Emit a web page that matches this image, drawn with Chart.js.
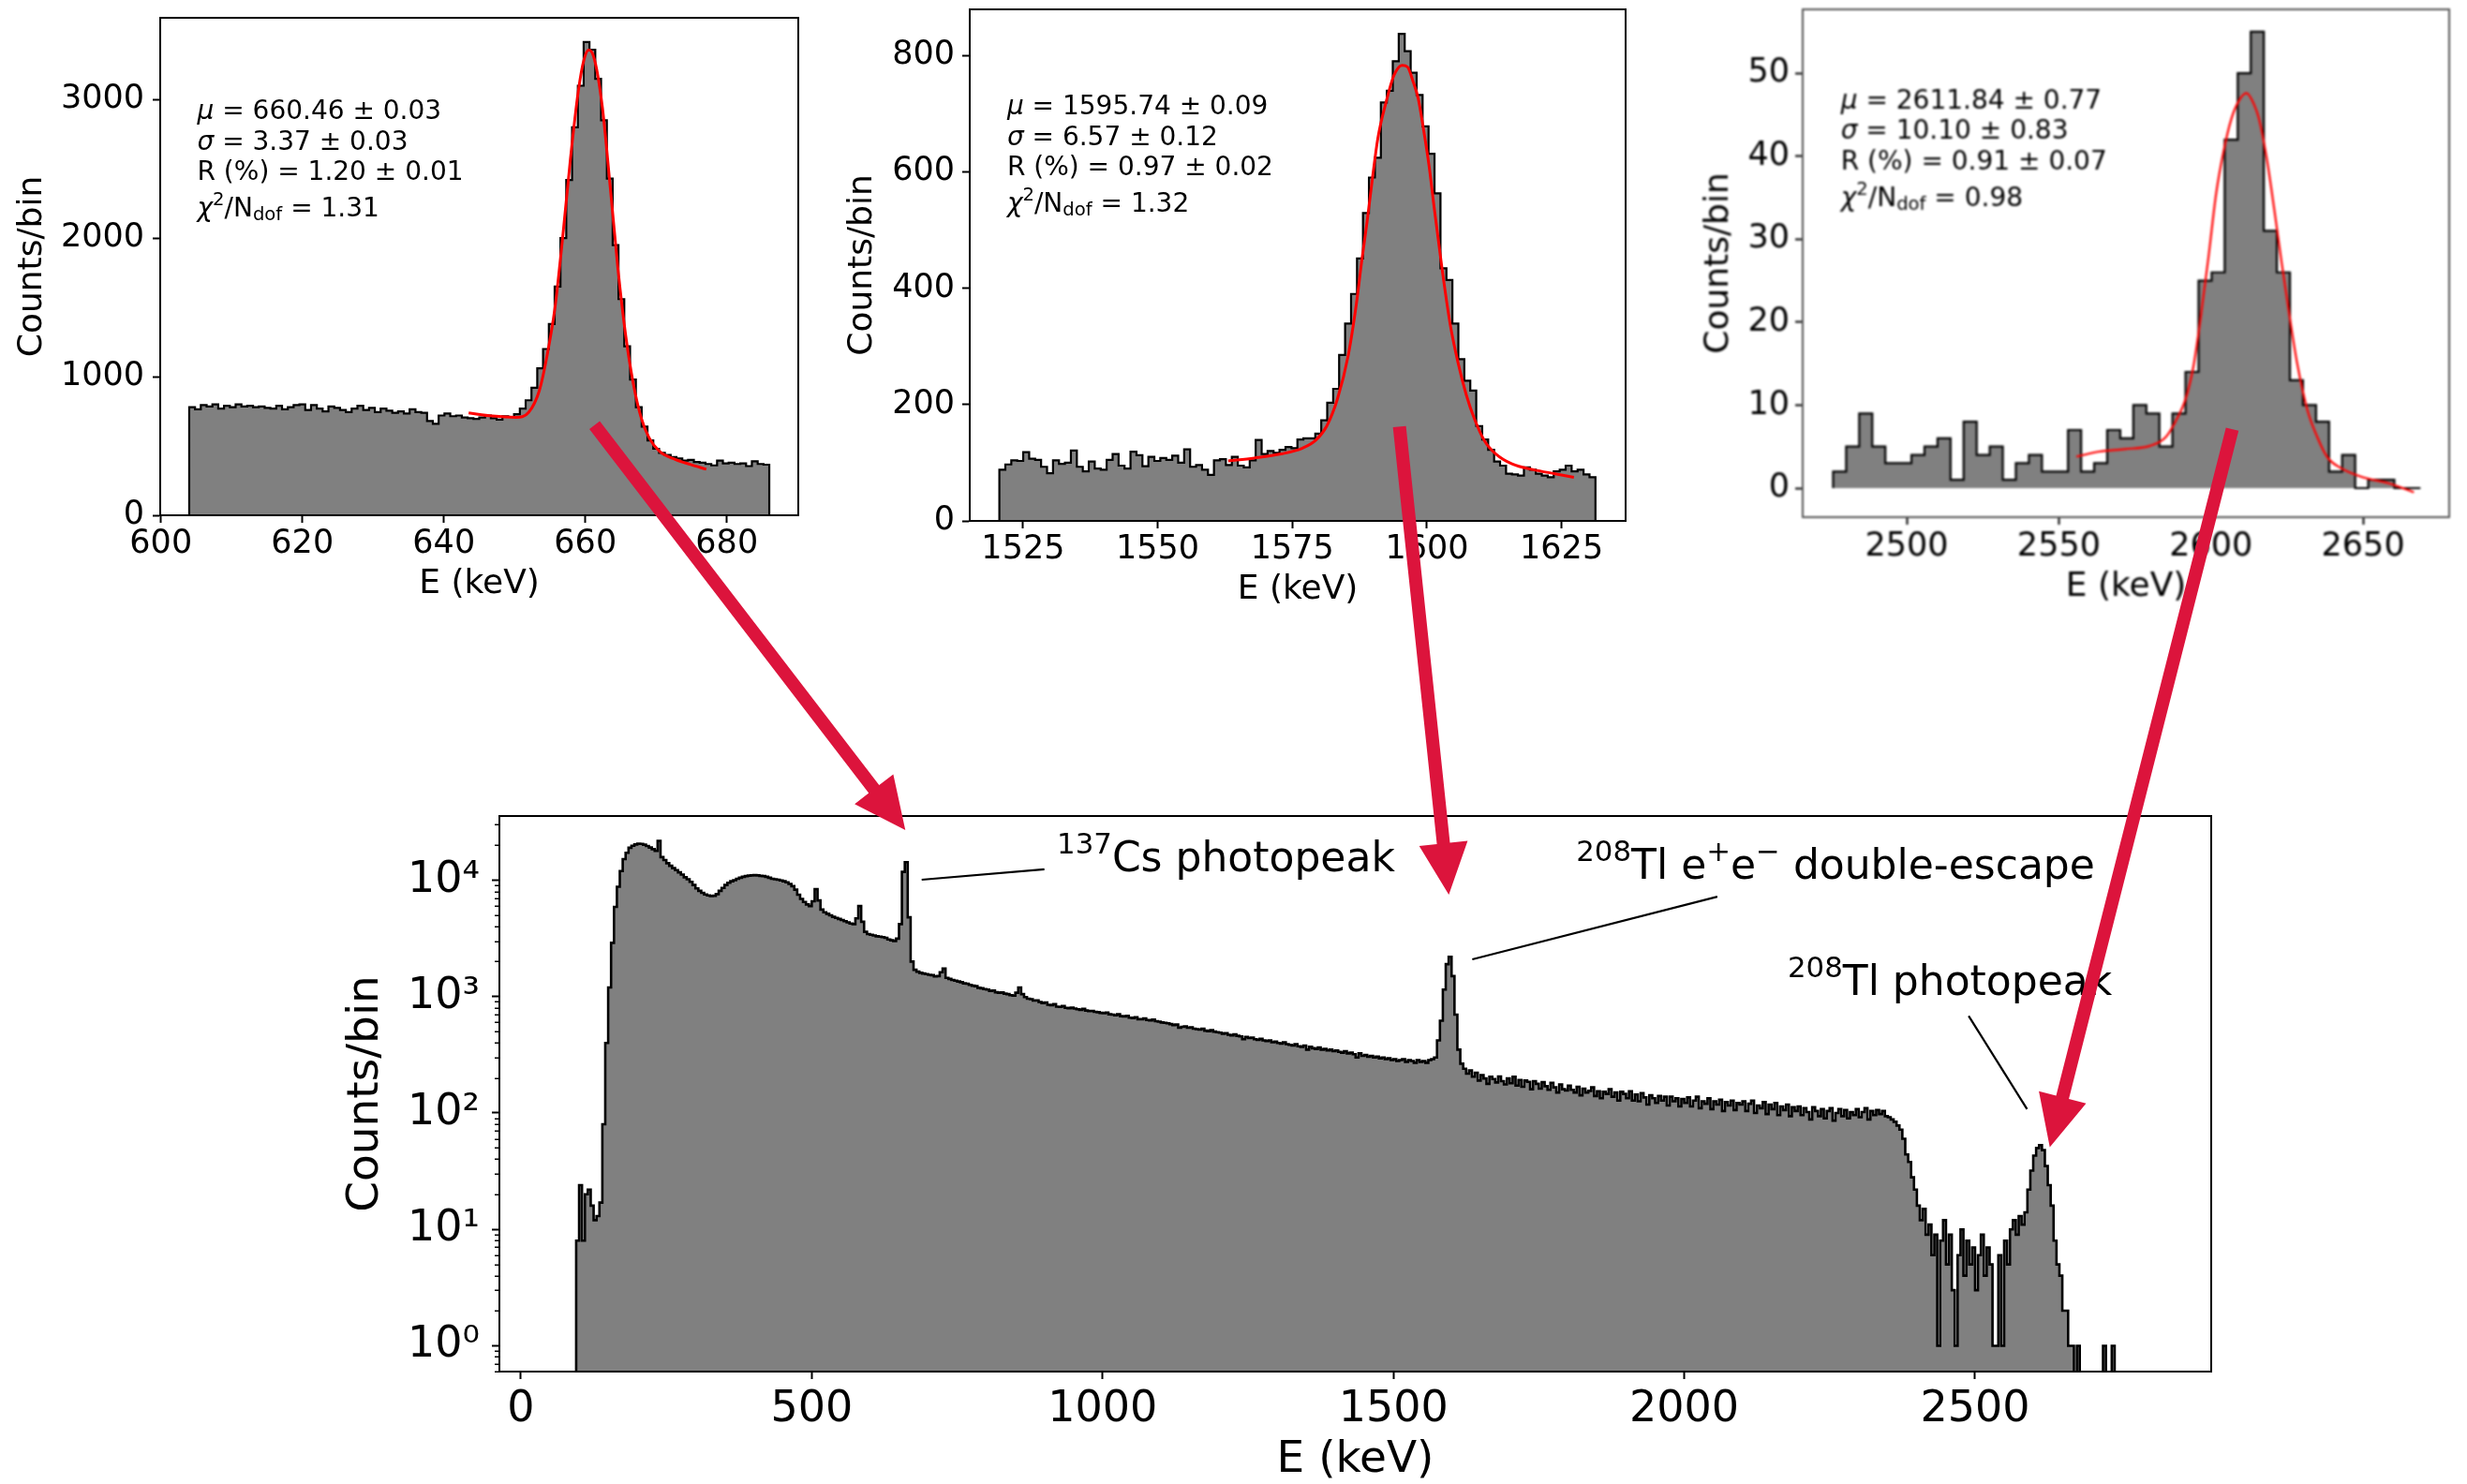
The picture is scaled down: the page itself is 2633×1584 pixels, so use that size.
<!DOCTYPE html>
<html>
<head>
<meta charset="utf-8">
<script src="https://cdn.jsdelivr.net/npm/chart.js@4.4.1/dist/chart.umd.min.js"></script>
<style>
  html, body { margin: 0; padding: 0; background: #fff; }
  body { width: 2633px; height: 1584px; position: relative; overflow: hidden; }
  canvas { position: absolute; }
  #tl { filter: blur(0.9px); }
</style>
</head>
<body>
<canvas id="cs"></canvas>
<canvas id="de"></canvas>
<canvas id="tl"></canvas>
<canvas id="full"></canvas>
<canvas id="arrows" width="2633" height="1584" style="left:0;top:0;pointer-events:none"></canvas>
<script>
// ---------- 137Cs photopeak zoom (100 bins) ----------
const csLo = 604, csBin = 0.82;
const csCounts = [
  780,765,795,785,800,770,790,780,800,785,
  790,780,785,775,770,790,765,780,795,800,
  760,795,770,750,785,775,760,745,770,790,
  760,775,745,770,755,740,750,735,765,745,
  740,680,660,720,735,715,720,705,700,695,
  705,720,700,690,715,710,730,770,830,920,
  1060,1200,1380,1650,2000,2420,2800,3100,3415,3360,
  3150,2850,2430,1950,1560,1220,980,780,640,540,
  480,450,435,420,410,395,400,385,380,370,
  360,395,375,380,370,375,355,390,370,365
];
const csFitE = [643.5,646.9,650.2,652.0,653.5,654.6,655.7,656.8,657.9,659.0,659.8,660.5,661.3,662.4,663.5,664.6,665.7,666.8,667.9,669.0,670.5,672.7,674.9,677.1];
const csFitN = [739,716,707,744,901,1156,1497,2009,2577,3060,3287,3358,3287,2946,2378,1781,1298,943,702,560,460,403,366,332];
const csXTicks = [600, 620, 640, 660, 680];
const csYTicks = [0, 1000, 2000, 3000];
const csFit = ['660.46 ± 0.03', '3.37 ± 0.03', '1.20 ± 0.01', '1.31'];

// ---------- 208Tl double-escape zoom (100 bins) ----------
const deLo = 1520.6, deBin = 1.107;
const deCounts = [
  88,97,104,103,118,107,105,93,82,104,
  98,100,121,93,85,102,90,88,105,115,
  95,90,119,113,94,110,103,108,105,112,
  100,123,93,96,88,79,104,106,96,110,
  95,92,104,139,115,120,117,122,127,125,
  140,142,142,150,173,203,227,285,339,390,
  451,529,590,624,719,739,790,837,807,770,
  732,678,631,563,434,414,339,278,241,224,
  163,140,122,102,95,81,80,78,92,88,
  81,78,75,85,88,95,85,88,80,75
];
const deFitE = [1563.1,1567.9,1572.9,1576.9,1579.4,1581.4,1583.4,1585.4,1586.9,1587.9,1588.9,1589.9,1590.9,1592.4,1593.9,1595.4,1596.4,1597.4,1598.4,1599.4,1600.4,1601.3,1602.8,1604.3,1605.8,1607.3,1608.8,1610.8,1612.8,1615.8,1619.8,1623.8,1627.3];
const deFitN = [103,108,115,125,139,163,210,285,373,447,515,590,658,719,766,783,780,756,725,671,610,542,434,339,271,217,176,136,115,98,88,81,75];
const deXTicks = [1525, 1550, 1575, 1600, 1625];
const deYTicks = [0, 200, 400, 600, 800];
const deFit = ['1595.74 ± 0.09', '6.57 ± 0.12', '0.97 ± 0.02', '1.32'];

// ---------- 208Tl photopeak zoom (45 bins) ----------
const tlLo = 2475.8, tlBin = 4.29;
const tlCounts = [
  2,5,9,5,3,3,4,5,6,1,
  8,4,5,1,3,4,2,2,7,2,
  3,7,6,10,9,5,9,14,25,26,
  42,50,55,31,26,13,10,8,2,4,
  0,1,1,0,0
];
const tlFitE = [2555.8,2563.3,2571.7,2580,2585,2588.3,2591.7,2594.2,2596.7,2599.2,2601.7,2604.2,2606.7,2609.2,2611.7,2614.2,2615.8,2618.3,2620.8,2623.3,2625.8,2628.3,2631.7,2635,2638.3,2643.3,2650,2658.3,2666.7];
const tlFitN = [3.8,4.4,4.7,5.1,6.1,8.0,10.8,14.6,20.8,27.9,35.5,40.7,44.5,46.7,47.6,46.2,44.5,39.8,33.6,27.0,20.8,15.1,9.4,6.1,3.7,2.3,1.3,0.6,-0.5];
const tlXTicks = [2500, 2550, 2600, 2650];
const tlYTicks = [0, 10, 20, 30, 40, 50];
const tlFit = ['2611.84 ± 0.77', '10.10 ± 0.83', '0.91 ± 0.07', '0.98'];

// ---------- full spectrum, 5 keV bins from 95 keV ----------
const fullLo = 95, fullBin = 5;
const fullCounts = [
  8,24,8,20,22,16,12,13,17,80,400,1200,2900,5900,8800,12000,15200,17200,19000,19800,
  20300,20600,20500,20200,19700,19100,18500,17900,21800,15800,14900,14000,13300,12700,12200,11700,11200,10600,10200,9700,
  9100,8500,8100,7800,7550,7400,7300,7350,7600,8100,8600,9100,9500,9800,10000,10300,10500,10700,10850,10950,
  11000,11050,11000,10900,10850,10700,10500,10300,10200,10100,9950,9800,9600,9300,8900,8300,7500,6900,6500,6200,
  6000,6600,8400,6700,5600,5300,5150,5000,4850,4750,4650,4550,4450,4350,4250,4200,4700,6000,4400,3600,
  3450,3400,3350,3300,3280,3250,3200,3100,3050,3000,3150,4200,11800,14300,4800,2000,1700,1640,1600,1580,
  1560,1540,1530,1490,1500,1620,1740,1450,1420,1390,1370,1350,1330,1300,1290,1260,1240,1230,1190,1180,
  1160,1150,1120,1130,1090,1080,1085,1060,1050,1030,1020,1080,1200,1050,990,960,950,925,930,900,
  880,890,850,845,860,820,815,830,800,795,805,790,780,770,785,760,750,755,740,735,
  725,720,730,705,700,690,705,680,675,685,660,655,665,640,640,650,630,625,635,615,
  610,600,595,590,580,570,575,540,550,555,540,545,530,525,520,530,510,505,515,500,
  495,490,480,485,470,465,475,460,455,430,450,440,445,430,425,435,420,415,420,405,
  410,400,395,405,390,385,380,390,375,370,380,350,370,360,355,365,350,355,345,350,
  340,345,335,330,340,325,330,320,300,325,310,315,305,310,300,305,295,300,290,295,
  285,290,280,285,290,275,285,280,270,285,275,280,270,285,290,300,420,620,1150,1900,
  2200,1500,700,350,265,240,218,232,205,222,190,212,198,178,205,196,183,206,188,176,
  198,180,205,172,192,168,190,185,160,188,178,162,184,170,158,182,166,150,176,160,
  156,172,158,150,168,142,162,150,155,166,140,154,134,152,146,160,138,150,128,152,
  146,134,154,128,144,126,148,136,118,142,134,122,140,128,138,116,138,126,134,114,
  132,122,136,114,128,138,110,126,120,134,108,126,118,130,104,124,116,128,106,122,
  118,126,104,120,128,100,116,110,124,98,118,108,122,96,114,106,118,94,112,104,
  114,96,110,102,88,112,104,94,108,90,104,110,86,100,108,94,106,90,102,96,
  108,92,102,110,88,104,96,106,98,104,94,92,88,84,78,72,60,44,38,28,
  22,16,12,15,9,11,6,9,1,8,12,5,9,3,1,6,10,4,8,5,
  7,3,6,9,4,7,5,1,1,6,1,8,5,10,12,9,13,11,14,22,
  32,43,50,53,48,35,24,16,8,5,4,2,2,1,1,0,1,0,0,0,
  0,0,0,0,0,1,0,0,1,0,0,0,0
];
const fullXTicks = [0, 500, 1000, 1500, 2000, 2500];
const fullYTicks = [1, 10, 100, 1000, 10000];

// peak labels on the full spectrum: text, anchor, leader line
const noteText = [
  [['137', 'sup'], ['Cs photopeak', '']],
  [['208', 'sup'], ['Tl e', ''], ['+', 'sup'], ['e', ''], ['\u2212', 'sup'], [' double-escape', '']],
  [['208', 'sup'], ['Tl photopeak', '']]
];
const noteAt = [[921.6, 12030], [1814.3, 10240], [2177.9, 1038]];
const noteFrom = [[689, 10100], [1635.6, 2089], [2489, 682]];
const noteTo = [[900, 12400], [2056.9, 7226], [2589.4, 108]];

// red arrows: start inside each zoom panel, end above the same peak
const arrowFrom = [[661.3, 650], [1594.9, 162], [2607, 7.1]];
const arrowTo = [[660.9, 27000], [1595.3, 7520], [2628.5, 50.8]];

Chart.defaults.font.family = '"DejaVu Sans"';
Chart.defaults.color = '#000';

const SUP = { 0: '\u2070', 1: '\u00b9', 2: '\u00b2', 3: '\u00b3', 4: '\u2074' };

function stepPoints(lo, width, counts, floor) {
  const pts = [{ x: lo, y: floor }];
  counts.forEach((c, i) => pts.push({ x: lo + i * width, y: c > 0 ? c : floor }));
  const hi = lo + counts.length * width;
  const last = counts[counts.length - 1];
  pts.push({ x: hi, y: last > 0 ? last : floor });
  pts.push({ x: hi, y: floor });
  return pts;
}

function drawRich(ctx, x, y, parts, size) {
  let cx = x;
  ctx.textAlign = 'left';
  ctx.textBaseline = 'alphabetic';
  for (const [t, kind] of parts) {
    let fs = size, dy = 0, style = '';
    if (kind === 'sup') { fs = size * 0.7; dy = -size * 0.43; }
    if (kind === 'sub') { fs = size * 0.7; dy = size * 0.15; }
    if (kind === 'i') style = 'italic ';
    ctx.font = style + fs + 'px "DejaVu Sans"';
    ctx.fillText(t, cx, y + dy);
    cx += ctx.measureText(t).width;
  }
}

const framePlugin = {
  id: 'frame',
  afterDraw(chart, args, opts) {
    const { ctx, chartArea: a } = chart;
    ctx.save();
    ctx.strokeStyle = opts.color || '#000';
    ctx.lineWidth = 2;
    ctx.strokeRect(a.left, a.top, a.right - a.left, a.bottom - a.top);
    ctx.restore();
  }
};

const fitTextPlugin = {
  id: 'fitText',
  afterDatasetsDraw(chart, args, opts) {
    if (!opts.values) return;
    const { ctx, chartArea: a } = chart;
    const x = a.left + opts.pos[0] * (a.right - a.left);
    const y = a.top + opts.pos[1] * (a.bottom - a.top);
    const v = opts.values;
    const lines = [
      [['\u03bc', 'i'], [' = ' + v[0], '']],
      [['\u03c3', 'i'], [' = ' + v[1], '']],
      [['R (%) = ' + v[2], '']],
      [['\u03c7', 'i'], ['2', 'sup'], ['/N', ''], ['dof', 'sub'], [' = ' + v[3], '']]
    ];
    const offs = [0, 32.7, 65.2, 104];
    ctx.save();
    ctx.fillStyle = '#000';
    lines.forEach((parts, i) => drawRich(ctx, x, y + offs[i], parts, 28));
    ctx.restore();
  }
};

const minorTickPlugin = {
  id: 'minorTicks',
  afterDraw(chart, args, opts) {
    if (!opts.on) return;
    const { ctx, chartArea: a, scales: { y } } = chart;
    ctx.save();
    ctx.strokeStyle = '#000';
    ctx.lineWidth = 1.5;
    for (let k = -1; k <= 4; k++) {
      for (let m = 2; m <= 9; m++) {
        const v = m * Math.pow(10, k);
        if (v < y.min || v > y.max) continue;
        const py = Math.round(y.getPixelForValue(v)) + 0.25;
        ctx.beginPath();
        ctx.moveTo(a.left - 5, py);
        ctx.lineTo(a.left, py);
        ctx.stroke();
      }
    }
    ctx.restore();
  }
};

const peakNotePlugin = {
  id: 'peakNotes',
  afterDatasetsDraw(chart, args, opts) {
    if (!opts.on) return;
    const { ctx, scales: { x, y } } = chart;
    ctx.save();
    ctx.strokeStyle = '#000';
    ctx.fillStyle = '#000';
    ctx.lineWidth = 2.2;
    noteText.forEach((parts, i) => {
      ctx.beginPath();
      ctx.moveTo(x.getPixelForValue(noteFrom[i][0]), y.getPixelForValue(noteFrom[i][1]));
      ctx.lineTo(x.getPixelForValue(noteTo[i][0]), y.getPixelForValue(noteTo[i][1]));
      ctx.stroke();
      drawRich(ctx, x.getPixelForValue(noteAt[i][0]), y.getPixelForValue(noteAt[i][1]), parts, 44);
    });
    ctx.restore();
  }
};

function xAxis(min, max, ticks, o) {
  return {
    type: 'linear', min, max,
    afterBuildTicks: s => { s.ticks = ticks.map(v => ({ value: v })); },
    afterFit: s => { s.height = o.xH; },
    grid: { drawOnChartArea: false, drawTicks: true, tickLength: 8, tickWidth: 2, tickColor: '#000' },
    border: { display: true, color: '#000', width: 2 },
    ticks: { font: { size: o.tick }, color: '#000', padding: o.xPad, maxRotation: 0, autoSkip: false,
             callback: v => String(v) },
    title: { display: true, text: 'E (keV)', font: { size: o.label }, color: '#000', padding: 0 }
  };
}

function yAxis(type, min, max, ticks, o, fmt) {
  return {
    type, min, max,
    afterBuildTicks: s => { s.ticks = ticks.map(v => ({ value: v })); },
    afterFit: s => { s.width = o.yW; },
    grid: { drawOnChartArea: false, drawTicks: true, tickLength: 8, tickWidth: 2, tickColor: '#000' },
    border: { display: true, color: '#000', width: 2 },
    ticks: { font: { size: o.tick }, color: '#000', padding: o.yPad, autoSkip: false, callback: fmt },
    title: { display: true, text: 'Counts/bin', font: { size: o.label }, color: '#000', padding: 0 }
  };
}

function place(id, frame, o) {
  const el = document.getElementById(id);
  const w = o.yW + (frame[2] - frame[0]) + o.padR;
  const h = o.padT + (frame[3] - frame[1]) + o.xH;
  el.width = w; el.height = h;
  el.style.left = (frame[0] - o.yW) + 'px';
  el.style.top = (frame[1] - o.padT) + 'px';
  return el;
}

function zoomPanel(id, frame, o, hist, fit, xr, yr, xt, yt, values, textPos, lineW, frameColor) {
  const el = place(id, frame, o);
  return new Chart(el, {
    type: 'line',
    data: {
      datasets: [
        { data: fit, borderColor: '#ff0000', borderWidth: lineW, pointRadius: 0, fill: false,
          cubicInterpolationMode: 'monotone', order: 0 },
        { data: hist, stepped: true, fill: 'origin', backgroundColor: '#808080', borderColor: '#000',
          borderWidth: 2.2, pointRadius: 0, order: 1 }
      ]
    },
    options: {
      responsive: false, animation: false, devicePixelRatio: 1,
      layout: { padding: { top: o.padT, right: o.padR, bottom: 0, left: 0 } },
      scales: {
        x: xAxis(xr[0], xr[1], xt, o),
        y: yAxis('linear', yr[0], yr[1], yt, o, v => String(v))
      },
      plugins: {
        legend: { display: false }, tooltip: { enabled: false },
        frame: { color: frameColor }, fitText: { values, pos: textPos }
      }
    },
    plugins: [framePlugin, fitTextPlugin]
  });
}

const insetFont = { tick: 35, label: 36, padT: 40, padR: 40, xPad: 2 };

const csChart = zoomPanel('cs', [171, 19, 852, 550], { ...insetFont, yW: 158, xH: 95, yPad: 9 },
  stepPoints(csLo, csBin, csCounts, 0), csFitE.map((e, i) => ({ x: e, y: csFitN[i] })),
  [599.9, 690.1], [0, 3590], csXTicks, csYTicks, csFit, [0.058, 0.2036], 3, '#000');

const deChart = zoomPanel('de', [1035, 10, 1735, 556], { ...insetFont, yW: 136, xH: 95, yPad: 8 },
  stepPoints(deLo, deBin, deCounts, 0), deFitE.map((e, i) => ({ x: e, y: deFitN[i] })),
  [1515.1, 1636.9], [0, 879], deXTicks, deYTicks, deFit, [0.057, 0.205], 3, '#000');

const tlChart = zoomPanel('tl', [1924, 10, 2614, 552], { ...insetFont, yW: 111, xH: 96, yPad: 6, xPad: 3 },
  stepPoints(tlLo, tlBin, tlCounts, 0), tlFitE.map((e, i) => ({ x: e, y: tlFitN[i] })),
  [2465.8, 2678.3], [-3.5, 57.7], tlXTicks, tlYTicks, tlFit, [0.059, 0.195], 2.2, '#555');

// full spectrum, log counts
const fullOpts = { tick: 46, label: 47, padT: 50, padR: 40, yW: 170, xH: 123, xPad: 5, yPad: 13 };
const fullEl = place('full', [533, 871, 2360, 1464], fullOpts);
const fullChart = new Chart(fullEl, {
  type: 'line',
  data: {
    datasets: [
      { data: stepPoints(fullLo, fullBin, fullCounts, 0.01), stepped: true, fill: 'start',
        backgroundColor: '#808080', borderColor: '#000', borderWidth: 2.6, pointRadius: 0 }
    ]
  },
  options: {
    responsive: false, animation: false, devicePixelRatio: 1,
    layout: { padding: { top: fullOpts.padT, right: fullOpts.padR, bottom: 0, left: 0 } },
    scales: {
      x: xAxis(-37, 2906, fullXTicks, fullOpts),
      y: yAxis('logarithmic', 0.6065, 35630, fullYTicks, fullOpts,
               v => '10' + SUP[Math.round(Math.log10(v))])
    },
    plugins: {
      legend: { display: false }, tooltip: { enabled: false },
      minorTicks: { on: true }, peakNotes: { on: true }
    }
  },
  plugins: [framePlugin, minorTickPlugin, peakNotePlugin]
});

// arrows from each zoom panel down to its peak in the full spectrum
function pagePoint(chart, el, v) {
  return [parseFloat(el.style.left) + chart.scales.x.getPixelForValue(v[0]),
          parseFloat(el.style.top) + chart.scales.y.getPixelForValue(v[1])];
}

function drawArrow(ctx, p0, p1) {
  const dx = p1[0] - p0[0], dy = p1[1] - p0[1];
  const L = Math.hypot(dx, dy), ux = dx / L, uy = dy / L, px = -uy, py = ux;
  const hw = 7, hh = 26, hl = 55;
  const bx = p1[0] - ux * hl, by = p1[1] - uy * hl;
  ctx.beginPath();
  ctx.moveTo(p0[0] + px * hw, p0[1] + py * hw);
  ctx.lineTo(bx + px * hw, by + py * hw);
  ctx.lineTo(bx + px * hh, by + py * hh);
  ctx.lineTo(p1[0], p1[1]);
  ctx.lineTo(bx - px * hh, by - py * hh);
  ctx.lineTo(bx - px * hw, by - py * hw);
  ctx.lineTo(p0[0] - px * hw, p0[1] - py * hw);
  ctx.closePath();
  ctx.fill();
}

const arrowCtx = document.getElementById('arrows').getContext('2d');
arrowCtx.fillStyle = '#dc143c';
const panels = [[csChart, 'cs'], [deChart, 'de'], [tlChart, 'tl']];
panels.forEach(([chart, id], i) => {
  const from = pagePoint(chart, document.getElementById(id), arrowFrom[i]);
  const to = pagePoint(fullChart, fullEl, arrowTo[i]);
  drawArrow(arrowCtx, from, to);
});
</script>
</body>
</html>
